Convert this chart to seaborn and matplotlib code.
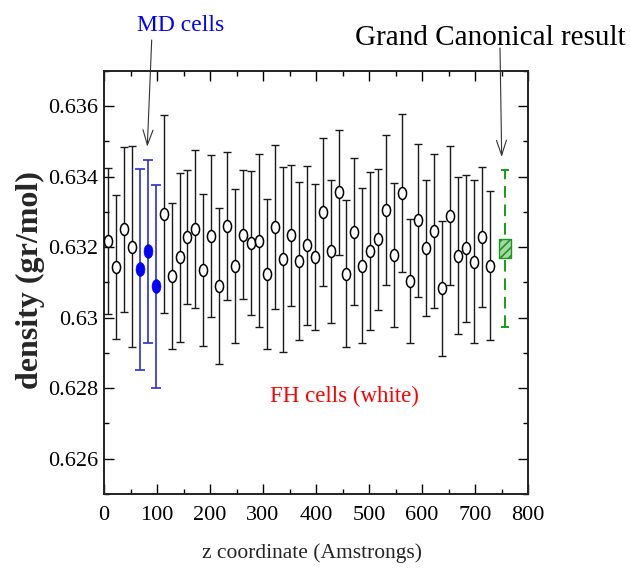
import numpy as np
import matplotlib
matplotlib.use('Agg')
import matplotlib.pyplot as plt
from matplotlib.path import Path
from matplotlib.ticker import MultipleLocator, FuncFormatter
import seaborn as sns

sns.set_theme(style="ticks")
plt.rcParams['font.family'] = ['Liberation Serif', 'DejaVu Serif']
plt.rcParams['hatch.linewidth'] = 1.2

# FH cells (white circles)
fh_z = [7.5, 22.5, 37.5, 52.5, 112.5, 127.5, 142.5, 157.5, 172.5, 187.5,
        202.5, 217.5, 232.5, 247.5, 262.5, 277.5, 292.5, 307.5, 322.5, 337.5,
        352.5, 367.5, 382.5, 397.5, 412.5, 427.5, 442.5, 457.5, 472.5, 487.5,
        502.5, 517.5, 532.5, 547.5, 562.5, 577.5, 592.5, 607.5, 622.5, 637.5,
        652.5, 667.5, 682.5, 697.5, 712.5, 727.5]
fh_rho = [0.63218, 0.63143, 0.63251, 0.63201, 0.63294, 0.63118, 0.63171, 0.63229,
          0.63252, 0.63135, 0.63232, 0.63091, 0.63260, 0.63146, 0.63236, 0.63212,
          0.63219, 0.63124, 0.63257, 0.63166, 0.63234, 0.63161, 0.63205, 0.63173,
          0.63299, 0.63188, 0.63356, 0.63125, 0.63244, 0.63148, 0.63189, 0.63223,
          0.63305, 0.63178, 0.63355, 0.63104, 0.63276, 0.63199, 0.63246, 0.63083,
          0.63290, 0.63176, 0.63197, 0.63159, 0.63229, 0.63148]
fh_err = [0.00207, 0.00204, 0.00234, 0.00285, 0.00281, 0.00207, 0.00241, 0.00189,
          0.00224, 0.00216, 0.00229, 0.00221, 0.00211, 0.00219, 0.00184, 0.00204,
          0.00246, 0.00212, 0.00232, 0.00263, 0.00200, 0.00223, 0.00226, 0.00207,
          0.00210, 0.00204, 0.00178, 0.00208, 0.00209, 0.00220, 0.00225, 0.00200,
          0.00213, 0.00204, 0.00224, 0.00176, 0.00218, 0.00193, 0.00218, 0.00191,
          0.00196, 0.00222, 0.00209, 0.00232, 0.00199, 0.00211]

# MD cells (blue)
md_z = [67.5, 82.5, 97.5]
md_rho = [0.63137, 0.63188, 0.63089]
md_err = [0.00284, 0.00260, 0.00287]

# Grand Canonical result
gc_z = [756.0]
gc_rho = [0.63196]
gc_err = [0.00222]

W, H = 630, 573
fig = plt.figure(figsize=(W / 100, H / 100), dpi=100)
ax = fig.add_axes([104 / W, 1 - 494 / H, 424 / W, 423 / H])

circ = Path.unit_circle()
ell_white = Path(circ.vertices * [0.68, 1.0], circ.codes)
ell_blue = Path(circ.vertices * [0.64, 1.0], circ.codes)
rect = Path([(-0.63, -1), (0.63, -1), (0.63, 1), (-0.63, 1), (-0.63, -1)],
            [Path.MOVETO, Path.LINETO, Path.LINETO, Path.LINETO, Path.CLOSEPOLY])

# error bars
ax.errorbar(fh_z, fh_rho, yerr=fh_err, fmt='none', ecolor='#1a1a1a',
            elinewidth=1.0, capsize=2.9, capthick=1.0, zorder=2)
ax.errorbar(md_z, md_rho, yerr=md_err, fmt='none', ecolor='#2f2fd0',
            elinewidth=1.2, capsize=3.3, capthick=1.2, zorder=2)
eb = ax.errorbar(gc_z, gc_rho, yerr=gc_err, fmt='none', ecolor='#1a9a1a',
                 elinewidth=1.4, capsize=2.9, capthick=1.4, zorder=2)
eb[2][0].set_linestyle((0, (6, 3.5)))

sns.scatterplot(x=fh_z, y=fh_rho, ax=ax, marker=ell_white, s=74,
                color='white', edgecolor='black', linewidth=1.1, zorder=3)
sns.scatterplot(x=md_z, y=md_rho, ax=ax, marker=ell_blue, s=98,
                color='#0000ff', edgecolor='#0000ff', linewidth=0.5, zorder=3)
ax.scatter(gc_z, gc_rho, marker=rect, s=185, facecolor='#a8d8a8',
           edgecolor='#1a9a1a', linewidth=1.0, hatch='////', zorder=3)

ax.set_xlim(0, 800)
ax.set_ylim(0.625, 0.637)
ax.xaxis.set_major_locator(MultipleLocator(100))
ax.xaxis.set_minor_locator(MultipleLocator(50))
ax.yaxis.set_major_locator(MultipleLocator(0.002))
ax.yaxis.set_minor_locator(MultipleLocator(0.001))
ax.yaxis.set_major_formatter(FuncFormatter(lambda v, p: f'{v:g}'))
ax.tick_params(which='both', direction='in', top=True, right=True,
               colors='black', labelsize=16, width=1.0)
ax.tick_params(which='major', length=7)
ax.tick_params(which='minor', length=3.6)
ax.tick_params(axis='x', pad=9)
ax.tick_params(axis='y', pad=4)
for sp in ax.spines.values():
    sp.set_color('#222222')
    sp.set_linewidth(1.4)
ax.grid(False)

# labels
fig.text(312 / W, 1 - 553 / H, 'z coordinate (Amstrongs)', ha='center',
         va='center', fontsize=15.5)
fig.text(30 / W, 1 - 280 / H, 'density (gr/mol)', ha='center', va='center',
         rotation=90, fontsize=23, fontweight='bold')

fig.text(181 / W, 1 - 31 / H, 'MD cells', ha='center', va='baseline',
         fontsize=17, color='#0000ff')
fig.text(490 / W, 1 - 45 / H, 'Grand Canonical result', ha='center',
         va='baseline', fontsize=21, color='black')
fig.text(344 / W, 1 - 402 / H, 'FH cells (white)', ha='center',
         va='baseline', fontsize=16.5, color='#ff0000')

arrow = dict(arrowstyle='->,head_length=0.9,head_width=0.3', color='#333333',
             lw=0.8, mutation_scale=12, shrinkA=0, shrinkB=0)
ax.annotate('', xy=(147.3 / W, 1 - 146.7 / H), xycoords='figure fraction',
            xytext=(151.7 / W, 1 - 40 / H), textcoords='figure fraction',
            arrowprops=arrow, annotation_clip=False)
ax.annotate('', xy=(501.7 / W, 1 - 157 / H), xycoords='figure fraction',
            xytext=(500 / W, 1 - 48 / H), textcoords='figure fraction',
            arrowprops=arrow, annotation_clip=False)

fig.savefig('out.png', dpi=100, facecolor='white')
